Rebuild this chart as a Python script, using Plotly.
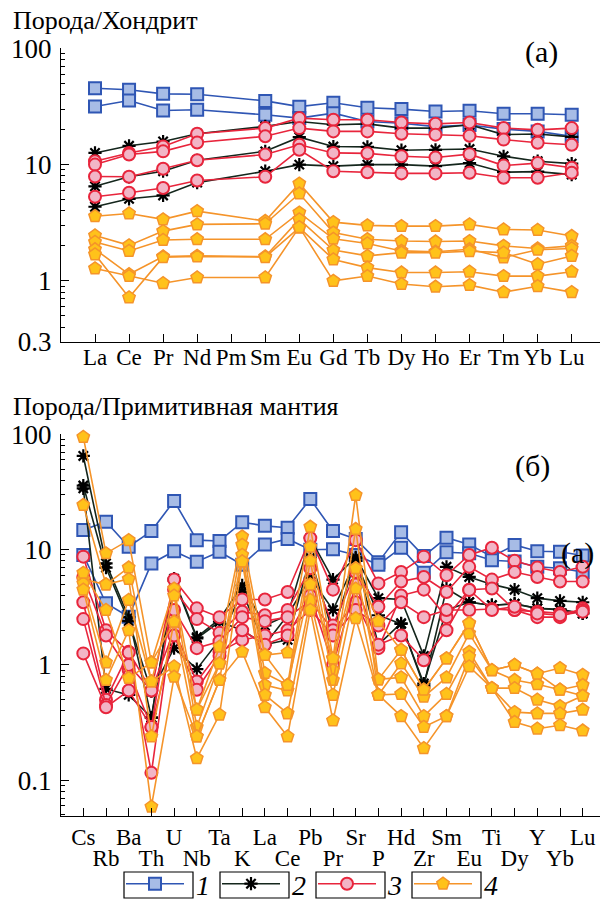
import plotly.graph_objects as go
import math

# ---------------- data: chondrite-normalised REE (panel a) ----------------
ree_labels = ["La", "Ce", "Pr", "Nd", "Pm", "Sm", "Eu", "Gd", "Tb", "Dy", "Ho", "Er", "Tm", "Yb", "Lu"]

ree_g1 = [
    [45.4, 44.0, 40.6, 40.3, None, 35.3, 31.5, 34.0, 30.8, 30.0, 28.6, 29.0, 27.4, 27.4, 26.8],
    [31.6, 35.6, 29.2, 29.6, None, 26.8, 25.1, 27.7, 23.5, 22.7, 21.2, 21.9, 20.2, 19.3, 17.5],
]
ree_g2 = [
    [12.6, 14.5, 15.8, 18.4, None, 21.3, 23.5, 22.0, 22.4, 20.6, 20.6, 22.0, 18.1, 18.3, 17.3],
    [6.5, 7.85, 8.77, 10.9, None, 13.0, 17.2, 14.3, 14.2, 13.3, 13.4, 13.6, 11.8, 10.7, 10.2],
    [4.34, 5.08, 5.43, 7.0, None, 8.77, 10.0, 9.7, 10.0, 10.0, 9.7, 10.3, 8.6, 8.7, 8.2],
]
ree_g3 = [
    [10.7, 12.6, 14.3, 18.4, None, 20.6, 25.1, 24.3, 24.3, 23.0, 22.4, 23.0, 20.6, 19.9, 20.6],
    [10.0, 12.2, 13.0, 15.5, None, 17.5, 20.6, 19.3, 19.3, 18.4, 18.1, 17.7, 16.4, 15.4, 14.8],
    [7.9, 7.85, 9.2, 10.9, None, 12.2, 14.8, 12.6, 12.5, 11.8, 11.5, 12.3, 9.8, 10.3, 9.4],
    [5.29, 5.72, 6.3, 7.3, None, 7.85, 13.4, 8.77, 8.6, 8.4, 8.4, 8.5, 7.7, 7.7, 8.5],
]
ree_g4 = [
    [3.6, 3.8, 3.38, 3.98, None, 3.27, 6.87, 3.2, 3.0, 2.96, 2.96, 3.06, 2.77, 2.74, 2.43],
    [2.46, 2.02, 2.68, 3.06, None, 3.1, 5.64, 2.6, 2.28, 2.2, 2.18, 2.2, 2.0, 1.9, 2.0],
    [2.16, 1.81, 2.25, 2.28, None, 2.28, 3.86, 2.3, 2.1, 1.81, 1.78, 1.87, 1.59, 1.85, 1.9],
    [1.87, 1.14, 1.62, 1.64, None, 1.62, 3.38, 1.84, 1.64, 1.75, 1.75, 1.8, 1.75, 1.39, 1.64],
    [1.69, 0.72, 1.6, 1.62, None, 1.6, 2.87, 1.53, 1.3, 1.18, 1.18, 1.2, 1.1, 1.1, 1.2],
    [1.28, 1.1, 0.955, 1.07, None, 1.07, 2.9, 1.0, 1.1, 0.94, 0.89, 0.92, 0.8, 0.9, 0.8],
]

# ---------------- data: primitive-mantle normalised spider (panel б) ----------------
pm_labels = ["Cs", "Rb", "Ba", "Th", "U", "Nb", "Ta", "K", "La", "Ce", "Pb", "Pr", "Sr",
             "P", "Hd", "Zr", "Sm", "Eu", "Ti", "Dy", "Y", "Yb", "Lu"]

pm_g1 = [
    [14.8, 17.5, 10.6, 14.5, 26.5, 12.1, 11.9, 17.3, 16.1, 15.5, 27.5, 14.5, 12.4, 7.8, 14.2, 8.8, 12.7, 11.1, 8.7, 11.0, 9.7, 9.6, 8.9],
    [9.0, 3.43, 2.62, 7.6, 9.7, 7.87, 9.6, 7.4, 11.1, 12.4, 10.0, 10.1, 9.0, 7.4, 10.4, 6.3, 9.5, 9.3, 8.1, 7.9, 7.1, 6.9, 6.4],
]
pm_g2 = [
    [65.0, 7.6, 2.6, 0.35, 5.6, 1.74, 2.5, 4.9, 2.2, 2.7, 12.6, 5.5, 8.6, 3.8, 3.7, 1.2, 7.1, 5.8, 5.0, 4.5, 3.8, 3.6, 3.5],
    [36.0, 7.0, 2.4, 0.59, 1.4, 0.92, 1.65, 4.3, 1.5, 1.65, 8.5, 1.9, 8.4, 1.5, 2.3, 0.66, 4.6, 3.5, 3.3, 3.4, 3.1, 3.0, 2.8],
    [34.0, 0.62, 0.55, 0.35, 5.4, 1.7, 2.37, 2.0, 1.5, 2.7, 5.7, 3.0, 8.0, 2.7, 2.27, 0.69, 3.0, 3.5, 3.3, 3.38, 3.1, 3.04, 2.8],
]
pm_g3 = [
    [8.7, 2.0, 1.3, 0.6, 5.5, 3.1, 2.6, 3.7, 3.7, 4.3, 12.6, 4.5, 12.1, 5.1, 6.4, 8.7, 6.0, 9.0, 10.4, 8.0, 7.0, 6.4, 7.1],
    [5.8, 1.8, 0.9, 0.29, 4.5, 2.5, 1.9, 2.9, 2.7, 3.0, 6.9, 2.2, 6.4, 3.2, 5.3, 5.8, 4.3, 7.1, 5.5, 6.4, 5.8, 5.3, 5.3],
    [3.5, 0.5, 1.28, 0.116, 3.0, 1.4, 1.6, 2.6, 2.4, 2.6, 3.6, 2.0, 3.5, 1.4, 4.0, 4.5, 2.6, 4.5, 4.6, 3.0, 2.6, 2.6, 3.1],
    [2.5, 0.45, 1.0, 0.6, 2.0, 0.72, 1.3, 1.65, 1.8, 2.0, 3.0, 1.8, 3.0, 2.2, 3.5, 2.6, 3.0, 3.0, 3.06, 3.0, 2.9, 2.8, 3.0],
    [1.26, 0.43, 0.6, 0.29, 1.8, 0.61, 1.2, 2.0, 1.5, 1.8, 4.0, 1.0, 5.0, 1.5, 1.8, 1.1, 2.0, 4.47, 3.0, 3.2, 2.8, 2.7, 2.9],
]
pm_g4 = [
    [95.0, 9.3, 12.1, 1.05, 4.6, 0.41, 1.44, 13.0, 1.22, 1.28, 15.8, 1.14, 29.8, 0.75, 1.35, 0.61, 1.14, 2.3, 0.9, 1.0, 0.84, 0.94, 0.82],
    [24.4, 5.0, 7.0, 0.72, 4.0, 0.29, 1.03, 11.0, 0.85, 0.67, 10.6, 0.9, 15.1, 0.55, 1.03, 0.53, 0.78, 1.88, 0.9, 0.74, 0.68, 0.61, 0.67],
    [5.5, 5.0, 5.56, 0.24, 2.37, 0.24, 0.74, 9.0, 0.67, 0.6, 8.0, 0.74, 6.9, 0.75, 0.78, 0.36, 0.56, 1.3, 0.63, 0.63, 0.5, 0.44, 0.54],
    [5.1, 1.05, 3.66, 0.72, 0.97, 0.155, 0.37, 7.9, 0.55, 0.38, 3.66, 0.55, 4.6, 0.55, 0.56, 0.29, 0.36, 1.18, 0.63, 0.39, 0.38, 0.38, 0.41],
    [4.5, 0.74, 2.0, 0.059, 0.79, 0.24, 0.74, 1.3, 0.43, 0.24, 3.0, 0.33, 2.54, 0.55, 0.36, 0.19, 0.36, 0.97, 0.63, 0.32, 0.28, 0.3, 0.27],
    [6.3, 3.0, 0.77, 1.05, 2.37, 0.41, 1.03, 7.9, 1.22, 0.67, 5.0, 1.14, 6.9, 2.4, 1.35, 0.61, 1.14, 2.3, 0.9, 1.0, 0.84, 0.61, 0.54],
]

legend_names = ["1", "2", "3", "4"]

# ---------------- styles ----------------
SERIF = "Liberation Serif"
styles = [
    dict(line=dict(color="#2f56b4", width=1.6),
         marker=dict(symbol="square", size=12, color="#a7bce6", line=dict(color="#2f56b4", width=2))),
    dict(line=dict(color="#14261c", width=1.6),
         marker=dict(symbol="asterisk", size=11, color="#000000", line=dict(color="#000000", width=2.2))),
    dict(line=dict(color="#e8253c", width=1.6),
         marker=dict(symbol="circle", size=12, color="#f2b5c6", line=dict(color="#e8253c", width=2))),
    dict(line=dict(color="#f5942a", width=1.6),
         marker=dict(symbol="pentagon", size=13, color="#ffc21a", line=dict(color="#f5942a", width=1.5))),
]

fig = go.Figure()

ree_groups = [ree_g1, ree_g2, ree_g3, ree_g4]
pm_groups = [pm_g1, pm_g2, pm_g3, pm_g4]
ree_x = list(range(len(ree_labels)))
pm_x = list(range(len(pm_labels)))

for gi, grp in enumerate(ree_groups):
    for si, ser in enumerate(grp):
        fig.add_trace(go.Scatter(
            x=ree_x, y=ser, mode="lines+markers", connectgaps=True,
            line=styles[gi]["line"], marker=styles[gi]["marker"],
            name="\u00a0" + legend_names[gi], legendgroup=legend_names[gi],
            showlegend=(si == 0), cliponaxis=False,
            xaxis="x", yaxis="y"))

# the lower panel uses two overlaid x axes (two rows of element labels)
for gi, grp in enumerate(pm_groups):
    for si, ser in enumerate(grp):
        fig.add_trace(go.Scatter(
            x=pm_x, y=ser, mode="lines+markers",
            line=styles[gi]["line"], marker=styles[gi]["marker"],
            name="\u00a0" + legend_names[gi], legendgroup=legend_names[gi],
            showlegend=False, cliponaxis=False,
            xaxis="x2" if gi < 3 else "x3", yaxis="y2"))

# page body has an 8px default margin: compensate so the chart lands at the reference pixels
OFF = 8
W, H = 609 - OFF, 905 - OFF
def py(pix):
    return 1 - (pix - OFF) / H
def px(pix):
    return (pix - OFF) / W

x_left, x_right = 61, 600
top_top, top_bot = 48.3, 341.7
bot_top, bot_bot = 434.4, 816

def minor_vals(lo, hi):
    vals = []
    for e in range(-2, 3):
        for d in range(2, 10):
            v = d * 10 ** e
            if lo <= v <= hi:
                vals.append(v)
    return vals

tick_font = dict(family=SERIF, size=27, color="black")
cat_font = dict(family=SERIF, size=23, color="black")

common_axis = dict(showline=True, linecolor="black", linewidth=1.3, showgrid=False,
                   zeroline=False, ticks="inside", ticklen=8, tickcolor="black", tickwidth=1.3)

pm_range = [(x_left - 83.3) / 22.7, (x_right - 83.3) / 22.7]

fig.update_layout(
    width=W, height=H,
    margin=dict(l=0, r=0, t=0, b=0, autoexpand=False),
    paper_bgcolor="white", plot_bgcolor="white",
    showlegend=True,
    xaxis=dict(domain=[px(x_left), px(x_right)], anchor="y",
               range=[(x_left - 95) / 34.05, (x_right - 95) / 34.05],
               tickmode="array", tickvals=ree_x, ticktext=ree_labels,
               tickfont=cat_font, ticklabelstandoff=-5, **common_axis),
    yaxis=dict(domain=[py(top_bot), py(top_top)], anchor="x", type="log",
               range=[math.log10(0.3), 2],
               tickmode="array", tickvals=[0.3, 1, 10, 100], ticktext=["0.3", "1", "10", "100"],
               tickfont=tick_font, ticklabelstandoff=3,
               minor=dict(tickmode="array", tickvals=minor_vals(0.31, 99), ticks="inside",
                          ticklen=4, tickcolor="black", tickwidth=1),
               **common_axis),
    xaxis2=dict(domain=[px(x_left), px(x_right)], anchor="y2", range=pm_range,
                tickmode="array", tickvals=pm_x,
                ticktext=[lab if i % 2 == 0 else "" for i, lab in enumerate(pm_labels)],
                tickfont=cat_font, ticklabelstandoff=0, **common_axis),
    xaxis3=dict(overlaying="x2", anchor="y2", side="bottom", range=pm_range,
                tickmode="array", tickvals=[i for i in pm_x if i % 2 == 1],
                ticktext=[lab for i, lab in enumerate(pm_labels) if i % 2 == 1],
                tickfont=cat_font, ticks="", showline=False, showgrid=False, zeroline=False,
                ticklabelstandoff=26),
    yaxis2=dict(domain=[py(bot_bot), py(bot_top)], anchor="x2", type="log",
                range=[-1.31, 2],
                tickmode="array", tickvals=[0.1, 1, 10, 100], ticktext=["0.1", "1", "10", "100"],
                tickfont=tick_font, ticklabelstandoff=3,
                minor=dict(tickmode="array", tickvals=minor_vals(0.05, 99), ticks="inside",
                           ticklen=4, tickcolor="black", tickwidth=1),
                **common_axis),
    legend=dict(orientation="h", x=px(121), y=py(859), xanchor="left", yanchor="top",
                font=dict(family=SERIF, size=28, color="black", style="italic"),
                itemwidth=58, entrywidth=23, entrywidthmode="pixels",
                bgcolor="rgba(0,0,0,0)", tracegroupgap=0),
)

ann = [
    dict(text="Порода/Хондрит", x=px(11), y=py(21), xanchor="left", yanchor="middle", size=26),
    dict(text="Порода/Примитивная мантия", x=px(11), y=py(407), xanchor="left", yanchor="middle", size=26),
    dict(text="(а)", x=px(541), y=py(52), xanchor="center", yanchor="middle", size=30),
    dict(text="(б)", x=px(532), y=py(466), xanchor="center", yanchor="middle", size=30),
    dict(text="(а)", x=px(577), y=py(553), xanchor="center", yanchor="middle", size=30),
]
for a in ann:
    size = a.pop("size")
    fig.add_annotation(xref="paper", yref="paper", showarrow=False,
                       font=dict(family=SERIF, size=size, color="black"), **a)

# legend boxes around the symbols
for x0 in [124, 220, 316, 412]:
    fig.add_shape(type="rect", xref="paper", yref="paper",
                  x0=px(x0), x1=px(x0 + 69), y0=py(898), y1=py(872),
                  line=dict(color="black", width=1.2))

fig.write_html("out.html")
